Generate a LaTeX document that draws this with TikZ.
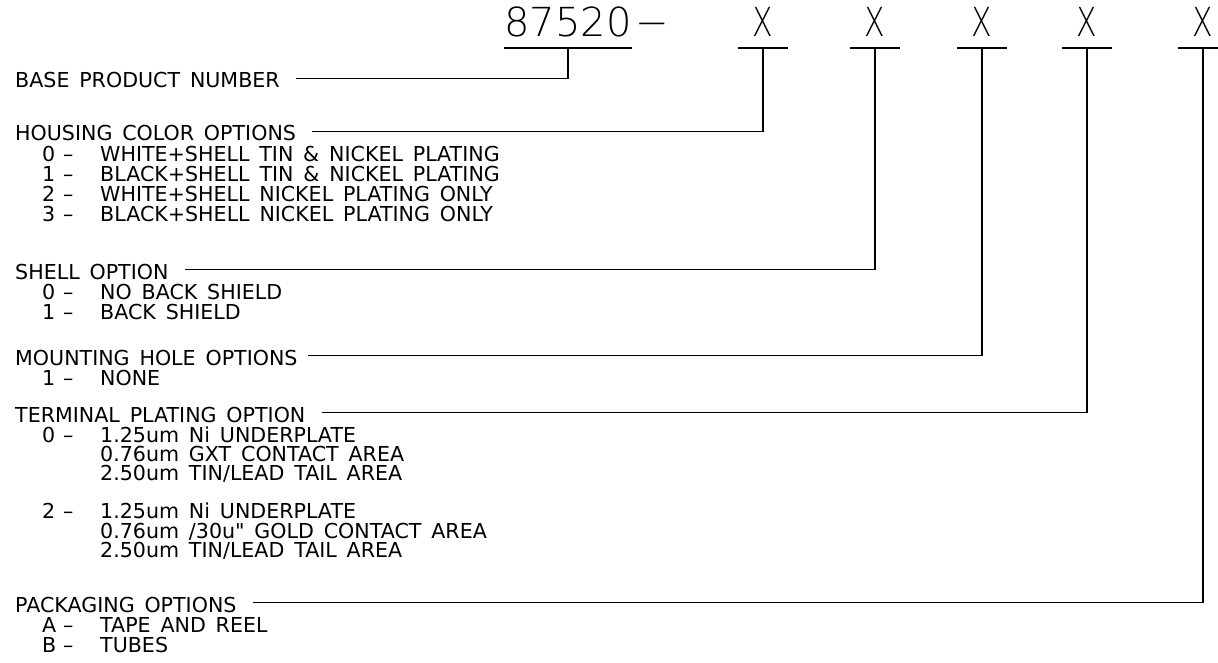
\documentclass[tikz,border=0pt]{standalone}
\usepackage{fontspec}
\setmainfont{DejaVu Sans}[WordSpace=1.5]
\newfontfamily\rawfont{DejaVu Sans}
\newfontfamily\headfont{DejaVu Sans ExtraLight}
\newfontfamily\narrowhead{DejaVu Sans ExtraLight}[FakeStretch=0.75]
\usetikzlibrary{positioning}

\tikzset{
  title/.style={anchor=base west, inner sep=0pt},
  choice/.style={anchor=base west, inner sep=0pt},
  digit/.style={anchor=south, inner xsep=0pt, inner ysep=11pt, minimum width=50pt,
    font=\narrowhead\fontsize{40}{40}\selectfont},
  lead/.style={line width=1.5pt},
}
\newcommand{\optline}[2]{\makebox[21pt][l]{#1}\makebox[37pt][l]{--}#2}

\begin{document}
\begin{tikzpicture}[x=1pt,y=-1pt,font=\fontsize{20.6}{24}\selectfont]
    \useasboundingbox (0,0) rectangle (1218,663);

    % part number
    \node[digit,minimum width=127pt,font=\headfont\fontsize{40}{40}\selectfont] (pn) at (568,48) {87520};
    \node[anchor=base west,inner sep=0pt,font=\headfont\fontsize{40}{40}\selectfont] (dash) at ([xshift=3pt]pn.base east) {−};
    \node[digit] (xhc) at (763,48) {X};
    \node[digit] (xsh) at (875,48) {X};
    \node[digit] (xmh) at (982,48) {X};
    \node[digit] (xtp) at (1087,48) {X};
    \node[digit] (xpk) at (1203,48) {X};
    \foreach \n in {pn,xhc,xsh,xmh,xtp,xpk}
        \draw[lead] (\n.south west) -- (\n.south east);

    % option lists
    \node[title] (bpn) at (15,88) {BASE PRODUCT NUMBER};

    \node[title] (hcolor) at (15,141) {HOUSING COLOR OPTIONS};
    \node[choice] (hc0) at (42,162) {\optline{0}{WHITE+SHELL TIN \& NICKEL PLATING}};
    \node[choice] (hc1) at (42,182) {\optline{1}{BLACK+SHELL TIN \& NICKEL PLATING}};
    \node[choice] (hc2) at (42,202) {\optline{2}{WHITE+SHELL NICKEL PLATING ONLY}};
    \node[choice] (hc3) at (42,222) {\optline{3}{BLACK+SHELL NICKEL PLATING ONLY}};

    \node[title] (shell) at (15,279) {SHELL OPTION};
    \node[choice] (sh0) at (42,299) {\optline{0}{NO BACK SHIELD}};
    \node[choice] (sh1) at (42,319) {\optline{1}{BACK SHIELD}};

    \node[title] (mhole) at (15,365) {MOUNTING HOLE OPTIONS};
    \node[choice] (mh1) at (42,385) {\optline{1}{NONE}};

    \node[title] (tplate) at (15,422) {TERMINAL PLATING OPTION};
    \node[choice] (tp0) at (42,442) {\optline{0}{1.25um Ni UNDERPLATE}};
    \node[choice] (tp0b) at (100,461) {0.76um GXT CONTACT AREA};
    \node[choice] (tp0c) at (100,480) {2.50um TIN/LEAD TAIL AREA};
    \node[choice] (tp2) at (42,518) {\optline{2}{1.25um Ni UNDERPLATE}};
    \node[choice] (tp2b) at (100,538) {0.76um /30u{\rawfont"} GOLD CONTACT AREA};
    \node[choice] (tp2c) at (100,557) {2.50um TIN/LEAD TAIL AREA};

    \node[title] (pack) at (15,612) {PACKAGING OPTIONS};
    \node[choice] (pk0) at (42,632) {\optline{A}{TAPE AND REEL}};
    \node[choice] (pk1) at (42,652) {\optline{B}{TUBES}};

    % leaders
    \draw[lead] ([xshift=16pt,yshift=2pt]bpn.east) -| (pn.south);
    \draw[lead] ([xshift=16pt,yshift=2pt]hcolor.east) -| (xhc.south);
    \draw[lead] ([xshift=16pt,yshift=2pt]shell.east) -| (xsh.south);
    \draw[lead] ([xshift=10pt,yshift=2pt]mhole.east) -| (xmh.south);
    \draw[lead] ([xshift=16pt,yshift=2pt]tplate.east) -| (xtp.south);
    \draw[lead] ([xshift=16pt,yshift=2pt]pack.east) -| (xpk.south);
\end{tikzpicture}
\end{document}
